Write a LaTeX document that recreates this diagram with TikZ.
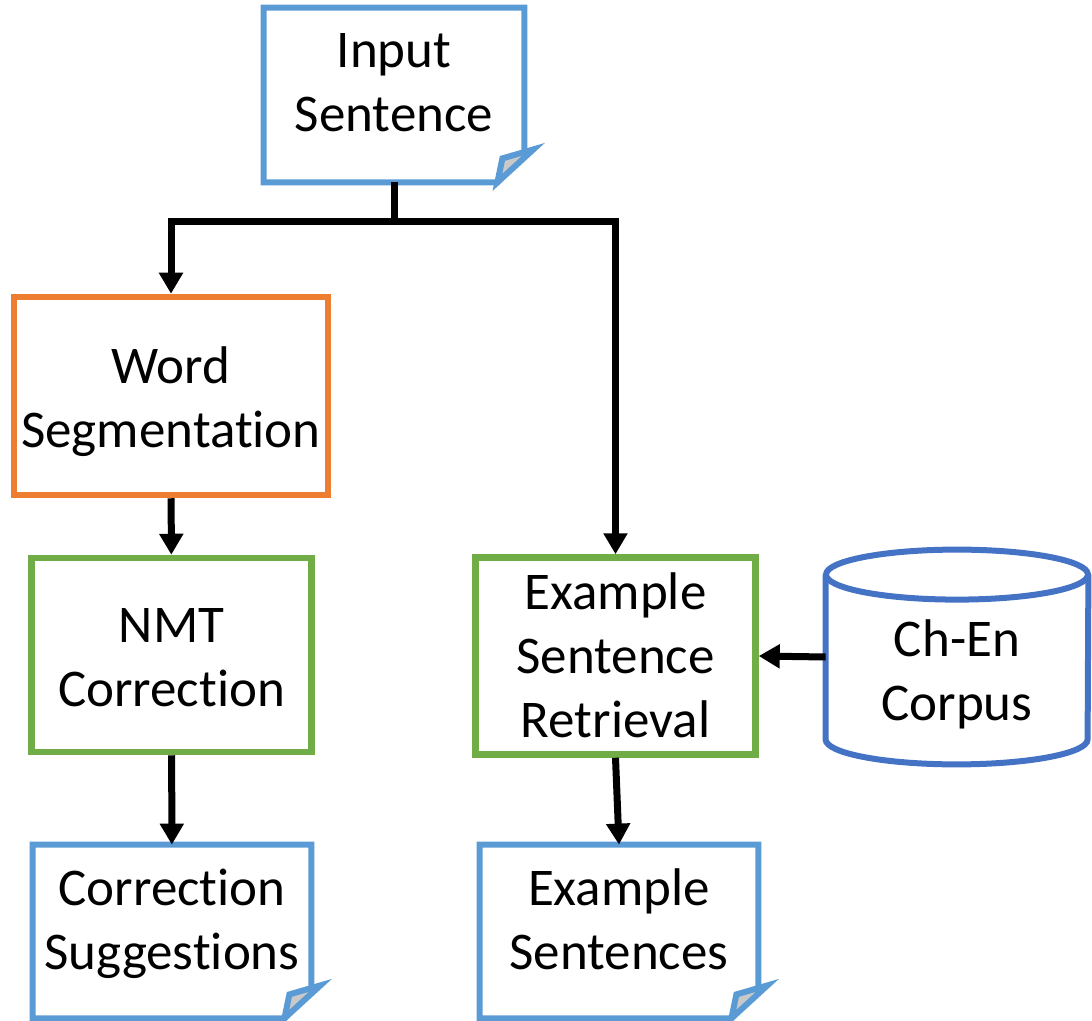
\documentclass[tikz,border=0pt]{standalone}
\usepackage{fontspec}
\setmainfont{Carlito}[Ligatures=NoCommon]
\usetikzlibrary{arrows.meta,calc}
\definecolor{docblue}{HTML}{5B9BD5}
\definecolor{segorange}{HTML}{ED7D31}
\definecolor{stepgreen}{HTML}{70AD47}
\definecolor{dbblue}{HTML}{4472C4}
\definecolor{foldgray}{HTML}{C9C9C9}
% page with a folded corner round a node
\newcommand{\docpage}[1]{%
	\draw[docline] (#1.north west) -- (#1.north east) -- ($(#1.south east)+(0,-30)$)
		-- ($(#1.south east)+(-27,0)$) -- (#1.south west) -- cycle;
	\filldraw[docline,fill=foldgray] ($(#1.south east)+(-27,0)$) -- ($(#1.south east)+(-22,-24)$)
		-- ($(#1.south east)+(9,-33)$) -- cycle;}
\begin{document}
\begin{tikzpicture}[x=0.5pt,y=-0.5pt,
	every node/.style={font=\fontsize{26.5}{32}\selectfont,align=center,inner sep=0pt},
	procbox/.style={draw,line width=3.25pt,text height=51.5pt,text depth=0pt},
	docbox/.style={text depth=12pt},
	docline/.style={draw=docblue,line width=3pt},
	flow/.style={line width=3.5pt,-{Triangle[width=11.5pt,length=10.5pt]}}]
		\useasboundingbox (0,0) rectangle (1092,1021);
		% documents
		\node[docbox,minimum width=130pt,minimum height=87pt] (input) at (394,95) {Input\\Sentence};
		\node[docbox,minimum width=139pt,minimum height=86.5pt] (corrsug) at (172,931.5) {Correction\\Suggestions};
		\node[docbox,minimum width=139pt,minimum height=86.5pt] (exsent) at (619,931.5) {Example\\Sentences};
		\docpage{input}
		\docpage{corrsug}
		\docpage{exsent}
		% steps
		\node[procbox,draw=segorange,minimum width=157pt,minimum height=99pt] (wordseg) at (171,396) {Word\\Segmentation};
		\node[procbox,draw=stepgreen,minimum width=140pt,minimum height=97pt] (nmt) at (171.5,655) {NMT\\Correction};
		\node[procbox,draw=stepgreen,minimum width=140pt,minimum height=98.5pt,text height=81pt] (retr) at (615.5,656) {Example\\Sentence\\Retrieval};
		% corpus
		\node[minimum width=131pt,minimum height=107pt,text height=63pt,text depth=0pt] (corpus) at (957,657) {Ch-En\\Corpus};
		\draw[dbblue,line width=3pt] ($(corpus.north)+(0,25)$) ellipse[x radius=65.5pt,y radius=12.5pt];
		\draw[dbblue,line width=3pt] ($(corpus.north west)+(0,25)$) -- ($(corpus.south west)+(0,-25)$)
			arc[start angle=180,end angle=360,x radius=65.5pt,y radius=12.5pt] -- ($(corpus.north east)+(0,25)$);
		% arrows
		\coordinate (split) at (input.south |- 0,222);
		\draw[line width=3.5pt] (input.south) -- (split);
		\draw[flow] (split) -| (wordseg.north);
		\draw[flow] (split) -| (retr.north);
		\draw[flow] (wordseg) -- (nmt);
		\draw[flow] (nmt) -- (corrsug);
		\draw[flow] (retr.south) -- (exsent.north);
		\draw[flow] (corpus.west) -- (retr.east);
\end{tikzpicture}
\end{document}
